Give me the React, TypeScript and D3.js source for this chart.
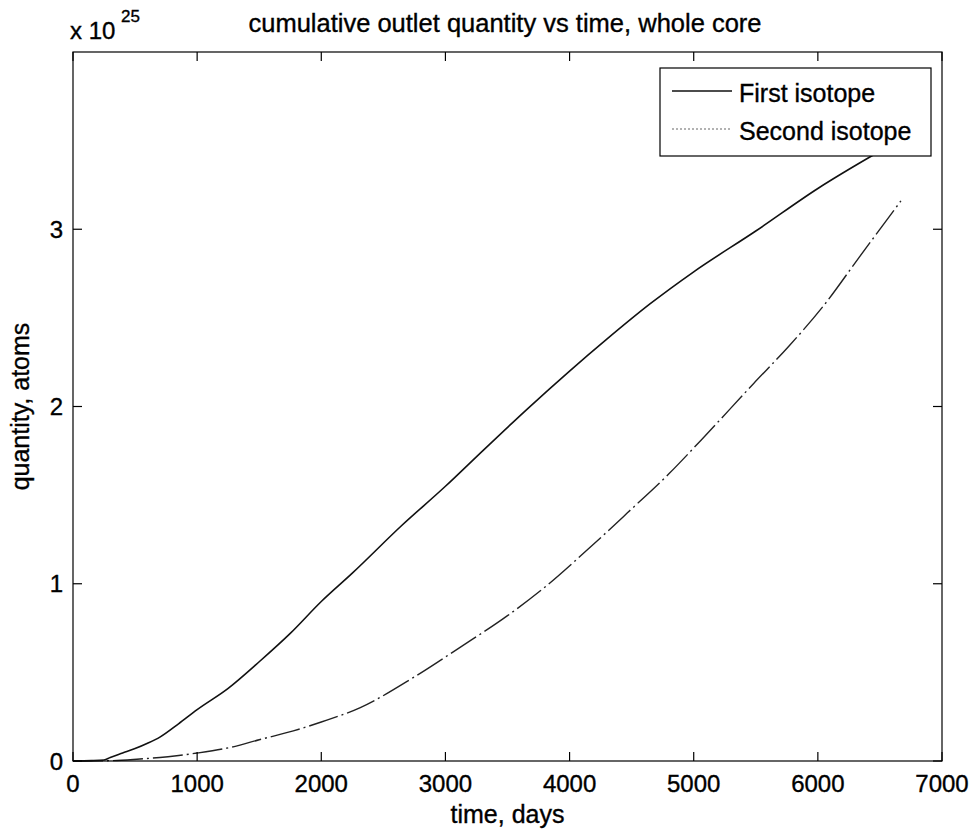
import React from 'react';
import * as d3 from 'd3';

// time in days, quantity in units of 1e25 atoms
const firstTime = [0, 150, 250, 300, 400, 500, 600, 700, 850, 1000, 1250, 1500, 1750, 2000, 2250, 2650, 3000, 3300, 3650, 4000, 4300, 4650, 5000, 5500, 6000, 6450, 6650];
const firstValue = [0, 0.002, 0.006, 0.02, 0.045, 0.07, 0.1, 0.135, 0.21, 0.29, 0.41, 0.56, 0.72, 0.9, 1.06, 1.33, 1.55, 1.75, 1.98, 2.2, 2.38, 2.58, 2.76, 2.99, 3.23, 3.42, 3.5];

const secondTime = [0, 300, 515, 700, 835, 1000, 1290, 1500, 1775, 2000, 2310, 2740, 3115, 3500, 3800, 4141, 4466, 4800, 5059, 5483, 5766, 6048, 6331, 6669];
const secondValue = [0, 0.002, 0.01, 0.02, 0.03, 0.045, 0.08, 0.12, 0.17, 0.22, 0.3, 0.47, 0.64, 0.82, 0.98, 1.19, 1.4, 1.62, 1.81, 2.13, 2.34, 2.57, 2.84, 3.16];

const xTicks = [0, 1000, 2000, 3000, 4000, 5000, 6000, 7000];
const yTicks = [0, 1, 2, 3];
const seriesNames = ['First isotope', 'Second isotope'];

const W = 977;
const H = 833;
const FONT = '"Liberation Sans", Arial, Helvetica, sans-serif';

export default function App() {
  const margin = { top: 52, right: 35, bottom: 72, left: 73 };
  const x = d3.scaleLinear().domain([0, 7000]).range([margin.left, W - margin.right]);
  const y = d3.scaleLinear().domain([0, 4]).range([H - margin.bottom, margin.top]);

  const line = d3.line<[number, number]>()
    .x(d => x(d[0]))
    .y(d => y(d[1]))
    .curve(d3.curveMonotoneX);

  const first = firstTime.map((t, i) => [t, firstValue[i]] as [number, number]);
  const second = secondTime.map((t, i) => [t, secondValue[i]] as [number, number]);

  const x0 = x(0), x1 = x(7000), y0 = y(0), y1 = y(4);
  const tick = 9;

  // legend box
  const lg = { x: 660, y: 68, w: 271, h: 88 };
  const txt = { fill: '#000', stroke: '#000', strokeWidth: 0.35 };

  return (
    <svg width={W} height={H} style={{ position: 'absolute', left: 0, top: 0, background: '#fff' }} fontFamily={FONT}>
      <rect x={0} y={0} width={W} height={H} fill="#fff" />

      {/* data */}
      <path d={line(first) || ''} fill="none" stroke="#111" strokeWidth={1.6} />
      <path d={line(second) || ''} fill="none" stroke="#222" strokeWidth={1.4} strokeDasharray="30 4 2 4" />

      {/* frame */}
      <rect x={x0} y={y1} width={x1 - x0} height={y0 - y1} fill="none" stroke="#000" strokeWidth={1.2} />

      {xTicks.map(t => (
        <g key={'x' + t}>
          <line x1={x(t)} x2={x(t)} y1={y0} y2={y0 - tick} stroke="#000" strokeWidth={1.2} />
          <line x1={x(t)} x2={x(t)} y1={y1} y2={y1 + tick} stroke="#000" strokeWidth={1.2} />
          <text x={x(t)} y={y0 + 31} textAnchor="middle" fontSize={24} {...txt}>{t}</text>
        </g>
      ))}
      {yTicks.map(v => (
        <g key={'y' + v}>
          <line x1={x0} x2={x0 + tick} y1={y(v)} y2={y(v)} stroke="#000" strokeWidth={1.2} />
          <line x1={x1} x2={x1 - tick} y1={y(v)} y2={y(v)} stroke="#000" strokeWidth={1.2} />
          <text x={63} y={y(v) + 8.5} textAnchor="end" fontSize={24} {...txt}>{v}</text>
        </g>
      ))}

      {/* exponent */}
      <text x={70} y={39} fontSize={24} {...txt}>x 10</text>
      <text x={121} y={22} fontSize={17} {...txt}>25</text>

      {/* title and axis labels */}
      <text x={505} y={32} textAnchor="middle" fontSize={25.5} {...txt}>cumulative outlet quantity vs time, whole core</text>
      <text x={(x0 + x1) / 2} y={823} textAnchor="middle" fontSize={25} {...txt}>time, days</text>
      <text transform={`translate(29,${(y0 + y1) / 2}) rotate(-90)`} textAnchor="middle" fontSize={25} {...txt}>quantity, atoms</text>

      {/* legend */}
      <rect x={lg.x} y={lg.y} width={lg.w} height={lg.h} fill="#fff" stroke="#000" strokeWidth={1.2} />
      <line x1={672} x2={732} y1={91} y2={91} stroke="#111" strokeWidth={1.4} />
      <text x={739} y={102} fontSize={25} {...txt}>{seriesNames[0]}</text>
      <line x1={672} x2={732} y1={129} y2={129} stroke="#666" strokeWidth={1.2} strokeDasharray="2 2" />
      <text x={739} y={140} fontSize={25} {...txt}>{seriesNames[1]}</text>
    </svg>
  );
}
